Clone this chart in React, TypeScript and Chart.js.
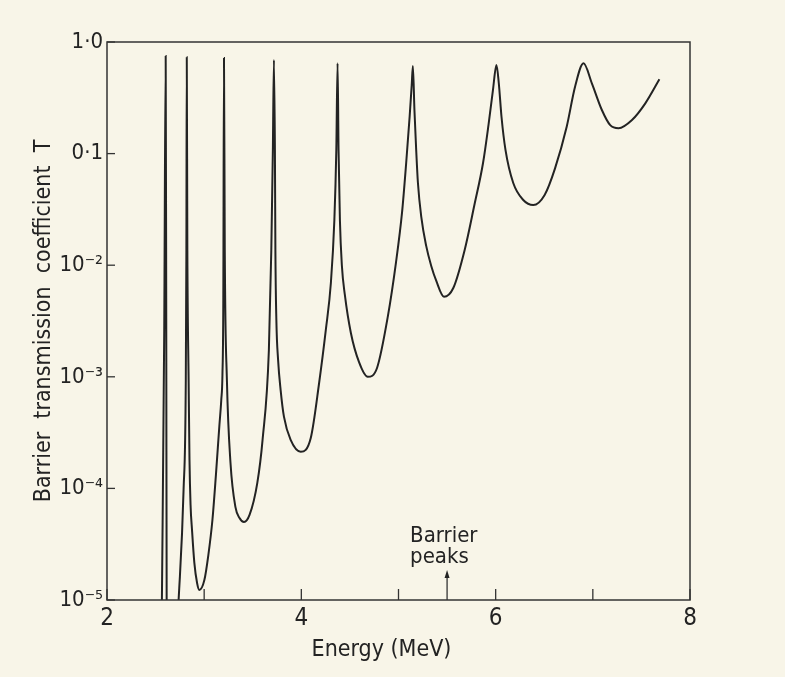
import React, { useEffect, useRef } from "react";
import { Chart, registerables } from "chart.js";

Chart.register(...registerables);

// Energy (MeV) of the points
const energy = [
  2.565, 2.589, 2.604, 2.610, 2.614, 2.670,
  2.737, 2.788, 2.811, 2.817, 2.821, 2.827, 2.840, 2.849, 2.860, 2.875, 2.899, 2.927, 2.950,
  3.002, 3.043, 3.085, 3.121, 3.157, 3.176, 3.188, 3.197, 3.204, 3.212, 3.234, 3.271, 3.322, 3.364, 3.410,
  3.467, 3.547, 3.601, 3.666, 3.691, 3.707, 3.718, 3.728, 3.733, 3.743, 3.761, 3.787, 3.821, 3.890, 3.994,
  4.097, 4.183, 4.252, 4.304, 4.340, 4.360, 4.373, 4.383, 4.397, 4.417, 4.448, 4.510, 4.593, 4.683,
  4.779, 4.890, 4.975, 5.037, 5.079, 5.115, 5.136, 5.148, 5.164, 5.182, 5.200, 5.234, 5.285, 5.337, 5.389, 5.468,
  5.564, 5.681, 5.781, 5.870, 5.926, 5.972, 6.008, 6.032, 6.060, 6.101, 6.181, 6.284, 6.387,
  6.504, 6.611, 6.731, 6.817, 6.904, 6.990, 7.093, 7.179, 7.265, 7.403, 7.540, 7.685,
];

// Barrier transmission coefficient T at those energies
const transmission = [
  1e-5, 2.6e-3, 0.75, 2.6e-3, 1e-5, 1e-6,
  1e-5, 9.7e-5, 9.4e-4, 0.0137, 0.73, 0.0137, 9.4e-4, 1.8e-4, 7.1e-5, 4.24e-5, 2.15e-5, 1.42e-5, 1.23e-5,
  1.51e-5, 2.53e-5, 5.21e-5, 1.32e-4, 3.7e-4, 6.2e-4, 1.04e-3, 4.88e-3, 0.72, 0.0137, 9.35e-4, 1.69e-4, 6.8e-5, 5.43e-5, 5.0e-5,
  5.78e-5, 1.12e-4, 2.72e-4, 1.74e-3, 0.0137, 0.108, 0.69, 0.108, 0.0137, 3.23e-3, 1.41e-3, 7.6e-4, 4.39e-4, 2.72e-4, 2.13e-4,
  2.83e-4, 8.8e-4, 2.63e-3, 6.92e-3, 0.0254, 0.108, 0.644, 0.108, 0.0254, 0.01, 5.41e-3, 2.47e-3, 1.36e-3, 1.0e-3,
  1.2e-3, 3.46e-3, 0.0107, 0.03, 0.0824, 0.217, 0.412, 0.61, 0.246, 0.108, 0.0545, 0.0272, 0.0149, 9.84e-3, 7.22e-3, 5.22e-3,
  6.25e-3, 0.0137, 0.0346, 0.0824, 0.18, 0.371, 0.622, 0.429, 0.214, 0.108, 0.0545, 0.0384, 0.0346,
  0.0426, 0.0738, 0.174, 0.397, 0.644, 0.426, 0.246, 0.18, 0.169, 0.2, 0.282, 0.463,
];

const yTickValues = [1e-5, 1e-4, 1e-3, 1e-2, 0.1, 1];
const yTickLabels = ["10⁻⁵", "10⁻⁴", "10⁻³", "10⁻²", "0·1", "1·0"];
const xTickValues = [2, 3, 4, 5, 6, 7, 8];
const xTickLabels = ["2", "", "4", "", "6", "", "8"];
const barrierPeakEnergy = 5.5;
const barrierLabel = ["Barrier", "peaks"];
const xTitle = "Energy (MeV)";
const yTitle = "Barrier  transmission  coefficient  T";

const FONT = "'Liberation Sans Narrow', 'DejaVu Sans Condensed', 'DejaVu Sans', sans-serif";
const INK = "#232323";

const decorPlugin = {
  id: "decor",
  afterDraw(chart: any) {
    const { ctx, chartArea } = chart;
    const { left, right, top, bottom } = chartArea;
    const xs = chart.scales.x;
    const ys = chart.scales.y;
    ctx.save();
    ctx.strokeStyle = "#333";
    ctx.lineWidth = 1.5;
    ctx.strokeRect(left, top, right - left, bottom - top);
    // inward y ticks
    ctx.lineWidth = 1.3;
    yTickValues.forEach((v) => {
      const y = ys.getPixelForValue(v);
      ctx.beginPath();
      ctx.moveTo(left, y);
      ctx.lineTo(left + 8, y);
      ctx.stroke();
    });
    // inward x ticks
    xTickValues.forEach((v) => {
      const x = xs.getPixelForValue(v);
      ctx.beginPath();
      ctx.moveTo(x, bottom);
      ctx.lineTo(x, bottom - 11);
      ctx.stroke();
    });
    // barrier peaks arrow
    const ax = xs.getPixelForValue(barrierPeakEnergy);
    ctx.beginPath();
    ctx.moveTo(ax, bottom);
    ctx.lineTo(ax, bottom - 26);
    ctx.stroke();
    ctx.fillStyle = INK;
    ctx.beginPath();
    ctx.moveTo(ax, bottom - 30);
    ctx.lineTo(ax - 2.5, bottom - 22);
    ctx.lineTo(ax + 2.5, bottom - 22);
    ctx.closePath();
    ctx.fill();
    ctx.font = `22px ${FONT}`;
    ctx.textAlign = "left";
    ctx.textBaseline = "alphabetic";
    ctx.fillText(barrierLabel[0], ax - 37, bottom - 58);
    ctx.fillText(barrierLabel[1], ax - 37, bottom - 37);
    // x axis title
    ctx.font = `23px ${FONT}`;
    ctx.textAlign = "center";
    ctx.textBaseline = "middle";
    ctx.fillText(xTitle, (left + right) / 2 - 17, bottom + 50);
    ctx.restore();
  },
};

export default function App() {
  const ref = useRef<HTMLCanvasElement | null>(null);

  useEffect(() => {
    if (!ref.current) return;
    const points = energy.map((e, i) => ({ x: e, y: transmission[i] }));
    const chart = new Chart(ref.current, {
      type: "line",
      data: {
        datasets: [
          {
            data: points,
            borderColor: INK,
            borderWidth: 2,
            pointRadius: 0,
            cubicInterpolationMode: "monotone",
            fill: false,
          },
        ],
      },
      options: {
        responsive: false,
        animation: false,
        layout: { padding: { left: 22, top: 42, right: 95, bottom: 0 } },
        plugins: { legend: { display: false }, tooltip: { enabled: false } },
        scales: {
          x: {
            type: "linear",
            min: 2,
            max: 8,
            grid: { display: false, drawTicks: false },
            border: { display: false },
            afterBuildTicks: (scale: any) => {
              scale.ticks = xTickValues.map((v) => ({ value: v }));
            },
            afterFit: (scale: any) => {
              scale.height = 77;
            },
            ticks: {
              autoSkip: false,
              maxRotation: 0,
              padding: 4,
              color: INK,
              font: { family: FONT, size: 24 },
              callback: (v: any) => {
                const i = xTickValues.indexOf(Number(v));
                return i >= 0 ? xTickLabels[i] : "";
              },
            },
          },
          y: {
            type: "logarithmic",
            min: 1e-5,
            max: 1,
            grid: { display: false, drawTicks: false },
            border: { display: false },
            afterBuildTicks: (scale: any) => {
              scale.ticks = yTickValues.map((v) => ({ value: v }));
            },
            afterFit: (scale: any) => {
              scale.width = 85;
            },
            ticks: {
              autoSkip: false,
              padding: 4,
              color: INK,
              font: { family: FONT, size: 22 },
              callback: (v: any) => {
                const i = yTickValues.findIndex((t) => Math.abs(Math.log10(t) - Math.log10(Number(v))) < 1e-6);
                return i >= 0 ? yTickLabels[i] : "";
              },
            },
            title: {
              display: true,
              text: yTitle,
              color: INK,
              font: { family: FONT, size: 23 },
              padding: { top: 8, bottom: 0 },
            },
          },
        },
      },
      plugins: [decorPlugin],
    });
    return () => chart.destroy();
  }, []);

  return (
    <div style={{ position: "fixed", left: 0, top: 0, width: 785, height: 677, background: "#f8f5e8" }}>
      <canvas ref={ref} width={785} height={677} style={{ display: "block" }} />
    </div>
  );
}
